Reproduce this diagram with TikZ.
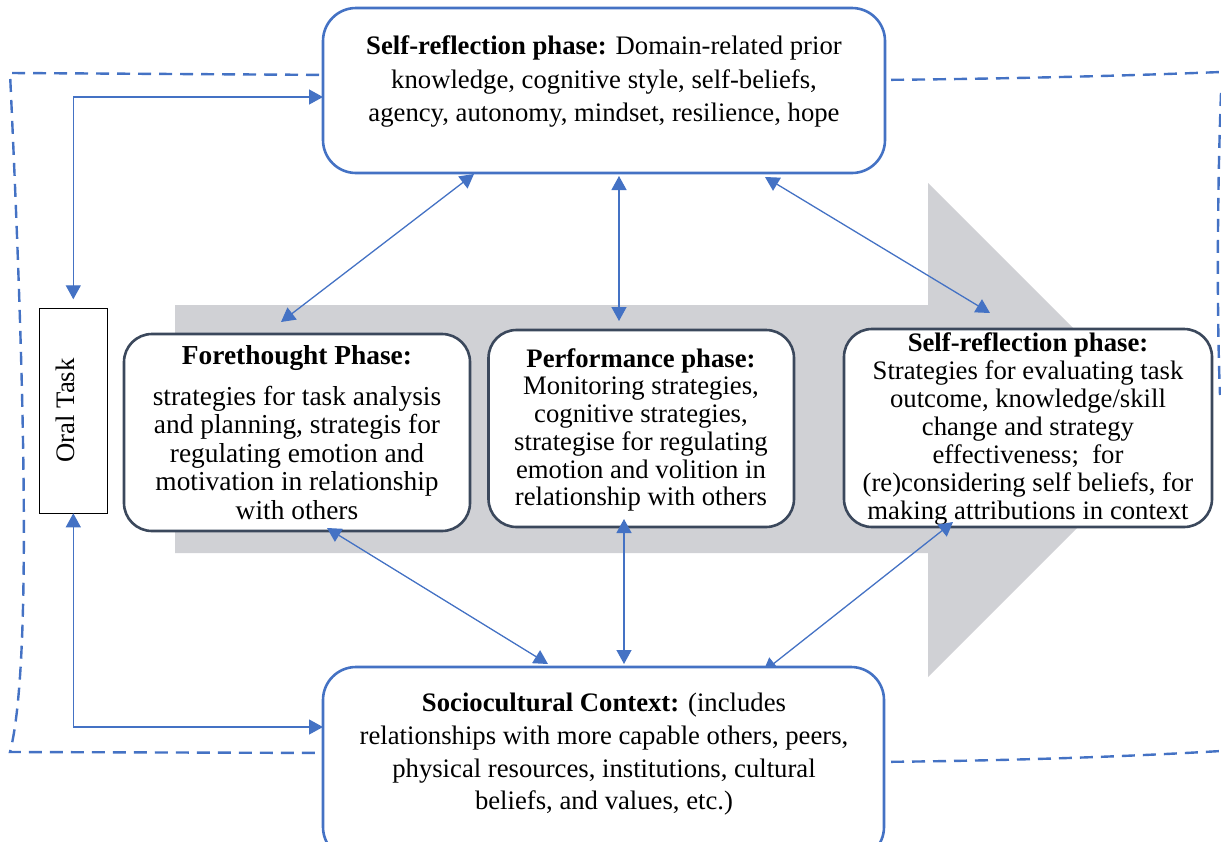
\documentclass[tikz,border=0pt]{standalone}
\usepackage{fontspec}
\setmainfont{Liberation Serif}
\usetikzlibrary{arrows.meta,calc}
\definecolor{linkblue}{RGB}{68,114,196}
\definecolor{phaseedge}{RGB}{59,72,92}
\definecolor{flowgray}{RGB}{208,209,213}
\pgfdeclarelayer{back}
\pgfdeclarelayer{mid}
\pgfsetlayers{back,mid,main}
\begin{document}
\begin{tikzpicture}[x=1pt,y=-1pt,
  outerbox/.style={draw=linkblue, line width=2.6pt, rounded corners=33pt, fill=white, inner sep=0pt, outer sep=0pt},
  phasebox/.style={draw=phaseedge, line width=2.6pt, rounded corners=28pt, fill=white, inner sep=0pt, outer sep=0pt},
  twoway/.style={draw=linkblue, line width=1.3pt, {Triangle[length=14pt,width=15pt]}-{Triangle[length=14pt,width=15pt]}},
  frame/.style={draw=linkblue, line width=2.4pt, dash pattern=on 13pt off 8pt},
  boxtext/.style={align=center, inner sep=0pt, anchor=north, font=\fontsize{26.7}{#1}\selectfont},
]
\useasboundingbox (0,0) rectangle (1221,841);

\begin{pgfonlayer}{back}
  % broad grey process arrow
  \fill[flowgray] (175,305) -- (928,305) -- (928,183) -- (1175,430)
    -- (928,677) -- (928,553) -- (175,553) -- cycle;

  % dashed enclosing outline
  \draw[frame] (340,75) -- (10,73) .. controls (22,330) and (34,660) .. (10,752) -- (340,753);
  \draw[frame] (870,80) .. controls (1000,79) and (1120,76) .. (1221,72);
  \draw[frame] (1221,93) .. controls (1217,200) and (1217,320) .. (1220,395);
  \draw[frame] (870,762) .. controls (1000,761) and (1120,757) .. (1221,751);

  % oral task box
  \node[draw=black, line width=1.2pt, fill=white, minimum width=68pt, minimum height=205pt,
        inner sep=0pt, outer sep=0pt] (oral) at (73.3,410.8) {};
  \node[rotate=90, inner sep=0pt, font=\fontsize{26.7}{30}\selectfont] (oraltext) at (65.5,410.5) {Oral Task};

  % the three phases
  \node[phasebox, minimum width=346pt, minimum height=197pt] (fore) at (297,432.5) {};
  \node[boxtext=28.5, font=\fontsize{27.4}{28.5}\selectfont] (foretext) at (297,344)
    {\rule{0pt}{20pt}\textbf{Forethought Phase:}\\[12.5pt]
     strategies for task analysis\\ and planning, strategis for\\
     regulating emotion and\\ motivation in relationship\\ with others};

  \node[phasebox, minimum width=305.5pt, minimum height=197pt] (perf) at (641.25,428.5) {};
  \node[boxtext=27.7] (perftext) at (641,347)
    {\rule{0pt}{20pt}\textbf{Performance phase:}\\ Monitoring strategies,\\
     cognitive strategies,\\ strategise for regulating\\
     emotion and volition in\\ relationship with others};

  \node[phasebox, minimum width=368pt, minimum height=198pt] (refl) at (1028,428) {};
  \node[boxtext=27.9] (refltext) at (1028,331.5)
    {\rule{0pt}{20pt}\textbf{Self-reflection phase:}\\ Strategies for evaluating task\\
     outcome, knowledge/skill\\ change and strategy\\ effectiveness;\ \ for\\
     (re)considering self beliefs, for\\ making attributions in context};
\end{pgfonlayer}

% outer context boxes
\node[outerbox, minimum width=562pt, minimum height=165pt] (selfbox) at (604,90.5) {};
\node[boxtext=33.5] (selftext) at (604,34.5)
  {\rule{0pt}{20pt}\textbf{Self-reflection phase:} Domain-related prior\\
   knowledge, cognitive style, self-beliefs,\\ agency, autonomy, mindset, resilience, hope};

\node[outerbox, minimum width=561pt, minimum height=193pt] (socio) at (603.5,763.5) {};
\node[boxtext=32.7] (sociotext) at (604,691.5)
  {\rule{0pt}{20pt}\textbf{Sociocultural Context:} (includes\\
   relationships with more capable others, peers,\\
   physical resources, institutions, cultural\\ beliefs, and values, etc.)};

\begin{pgfonlayer}{mid}
  % links through the oral task
  \draw[twoway] ([yshift=9pt]oral.north) |- ([yshift=-6.5pt]selfbox.west);
  \draw[twoway] (oral.south) |- ([yshift=36.5pt]socio.west);

  % links between the phases and the contexts
  \draw[twoway] ($(selfbox.south west)+(151,1)$) -- ($(fore.north west)+(157,-12)$);
  \draw[twoway] ($(selfbox.south west)+(296,3)$) -- ($(perf.north west)+(130.5,-9)$);
  \draw[twoway] ($(selfbox.south west)+(442,4)$) -- ($(refl.north west)+(146,-16)$);
  \draw[twoway] ($(fore.south west)+(203,-3)$) -- ($(socio.north west)+(225,-3)$);
  \draw[twoway] ($(perf.south west)+(135.5,-8)$) -- ($(socio.north west)+(301,-3)$);
  \draw[twoway] ($(refl.south west)+(109,-5)$) -- ($(socio.north west)+(440,5)$);
\end{pgfonlayer}
\end{tikzpicture}
\end{document}
